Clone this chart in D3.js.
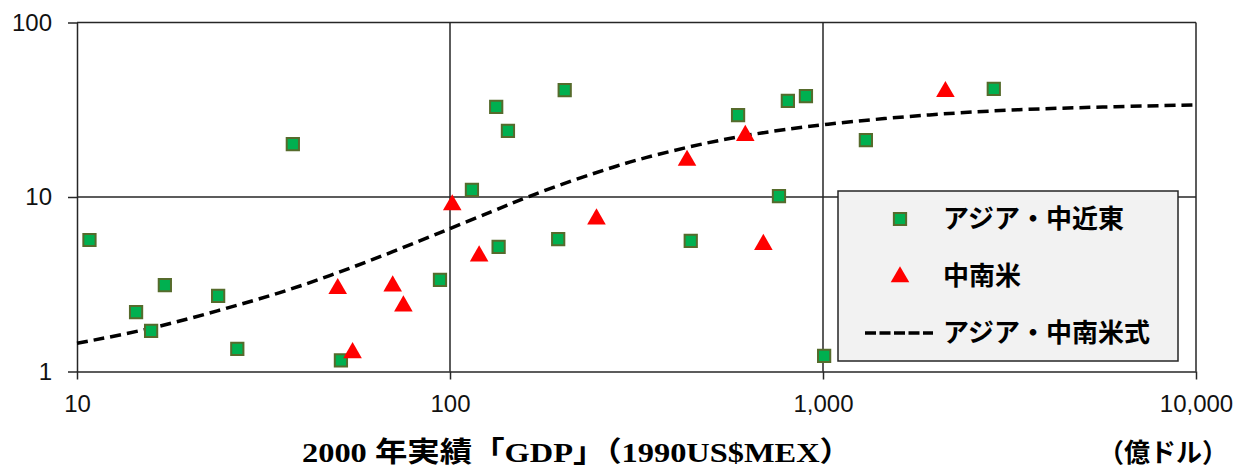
<!DOCTYPE html>
<html>
<head>
<meta charset="utf-8">
<script src="https://cdn.jsdelivr.net/npm/d3@7"></script>
<style>
    body { margin: 0; background: #fff; }
    .tick text { font-family: "Liberation Sans", Arial, sans-serif; font-size: 24px; fill: #111; }
    .domain, .tick line { stroke: #262626; stroke-width: 1.5px; }
    .grid-line { stroke: #262626; stroke-width: 1.5px; }
    .jp { font-family: "Liberation Serif", "Noto Sans CJK JP", serif; font-weight: bold; fill: #000; }
</style>
</head>
<body>
<div id="chart"></div>
<script>
//////////////////////////////////////////////////////////////
/////////////////////////// Data /////////////////////////////
//////////////////////////////////////////////////////////////

//アジア・中近東 - GDP (億ドル) and y-value
const asiaGdp = [10.8, 14.4, 15.8, 17.2, 23.9, 26.9, 37.9, 51, 94, 114.5, 135, 133, 143, 195, 203, 442, 592, 762, 805, 900, 1007, 1303, 2870]
const asiaVal = [5.67, 2.19, 1.71, 3.13, 2.71, 1.35, 20.1, 1.16, 3.35, 10.97, 5.17, 32.8, 23.9, 5.74, 41.0, 5.6, 29.5, 10.1, 35.5, 37.9, 1.23, 21.2, 41.6]

//中南米
const latamGdp = [50, 54.8, 70.2, 75, 101.4, 119.7, 247, 432, 619, 692, 2129]
const latamVal = [2.98, 1.28, 3.09, 2.37, 9.0, 4.59, 7.48, 16.2, 22.5, 5.34, 40.1]

//アジア・中南米式 (fitted curve)
const fitGdp = [10, 15.8, 23.9, 35, 49.7, 70.5, 100, 130.6, 160.6, 214, 286, 330, 431, 611, 1000, 1977, 3377, 5530, 10000]
const fitVal = [1.45, 1.75, 2.23, 2.81, 3.65, 4.86, 6.6, 8.3, 10.0, 12.5, 15.3, 16.7, 19.3, 22.6, 26.2, 29.9, 31.8, 32.8, 33.7]

const xTicks = [10, 100, 1000, 10000]
const yTicks = [1, 10, 100]
const legendLabels = ["アジア・中近東", "中南米", "アジア・中南米式"]
const xTitle = "2000 年実績「GDP」（1990US$MEX）"
const unitTitle = "（億ドル）"

//////////////////////////////////////////////////////////////
//////////////////////// Create SVG //////////////////////////
//////////////////////////////////////////////////////////////

const W = 1234, H = 472
const margin = { top: 22.5, right: 38, bottom: 100.5, left: 77 }

const svg = d3.select("#chart")
    .append("svg")
    .attr("width", W)
    .attr("height", H)

const xScale = d3.scaleLog()
    .domain([10, 10000])
    .range([margin.left, W - margin.right])

const yScale = d3.scaleLog()
    .domain([1, 100])
    .range([H - margin.bottom, margin.top])

//////////////////////////////////////////////////////////////
///////////////////////// Grid lines /////////////////////////
//////////////////////////////////////////////////////////////

const grid = svg.append("g").attr("class", "grid")

grid.selectAll(".grid-h")
    .data(yTicks.slice(1))
    .enter().append("line")
    .attr("class", "grid-line")
    .attr("x1", xScale(10)).attr("x2", xScale(10000))
    .attr("y1", d => yScale(d)).attr("y2", d => yScale(d))

grid.selectAll(".grid-v")
    .data(xTicks.slice(1))
    .enter().append("line")
    .attr("class", "grid-line")
    .attr("x1", d => xScale(d)).attr("x2", d => xScale(d))
    .attr("y1", yScale(1)).attr("y2", yScale(100))

//////////////////////////////////////////////////////////////
//////////////////////////// Axes ////////////////////////////
//////////////////////////////////////////////////////////////

svg.append("g")
    .attr("transform", "translate(0," + yScale(1) + ")")
    .call(d3.axisBottom(xScale)
        .tickValues(xTicks)
        .tickFormat(d3.format(","))
        .tickSizeInner(8)
        .tickSizeOuter(0)
        .tickPadding(15))

svg.append("g")
    .attr("transform", "translate(" + xScale(10) + ",0)")
    .call(d3.axisLeft(yScale)
        .tickValues(yTicks)
        .tickFormat(d3.format("d"))
        .tickSizeInner(9)
        .tickSizeOuter(0)
        .tickPadding(16))

//////////////////////////////////////////////////////////////
///////////////////////// Fit curve //////////////////////////
//////////////////////////////////////////////////////////////

const line = d3.line()
    .x(d => xScale(d[0]))
    .y(d => yScale(d[1]))
    .curve(d3.curveBasis)

svg.append("path")
    .datum(d3.zip(fitGdp, fitVal))
    .attr("d", line)
    .style("fill", "none")
    .style("stroke", "#000")
    .style("stroke-width", 3.5)
    .style("stroke-dasharray", "11,6")

//////////////////////////////////////////////////////////////
////////////////////////// Markers ///////////////////////////
//////////////////////////////////////////////////////////////

const squareSym = d3.symbol().type(d3.symbolSquare).size(150)
const triSym = d3.symbol().type(d3.symbolTriangle).size(150)

svg.append("g").selectAll(".asia")
    .data(d3.zip(asiaGdp, asiaVal))
    .enter().append("path")
    .attr("class", "asia")
    .attr("d", squareSym)
    .attr("transform", d => "translate(" + xScale(d[0]) + "," + yScale(d[1]) + ")")
    .style("fill", "#00b050")
    .style("stroke", "#566b2c")
    .style("stroke-width", 2)

svg.append("g").selectAll(".latam")
    .data(d3.zip(latamGdp, latamVal))
    .enter().append("path")
    .attr("class", "latam")
    .attr("d", triSym)
    .attr("transform", d => "translate(" + xScale(d[0]) + "," + yScale(d[1]) + ")")
    .style("fill", "#ff0000")

//////////////////////////////////////////////////////////////
/////////////////////////// Legend ///////////////////////////
//////////////////////////////////////////////////////////////

const legend = svg.append("g").attr("transform", "translate(838,191)")

legend.append("rect")
    .attr("width", 340)
    .attr("height", 170)
    .style("fill", "#f2f2f2")
    .style("stroke", "#262626")
    .style("stroke-width", 1.5)

legend.append("path")
    .attr("d", squareSym)
    .attr("transform", "translate(62,28)")
    .style("fill", "#00b050")
    .style("stroke", "#566b2c")
    .style("stroke-width", 2)

legend.append("path")
    .attr("d", triSym)
    .attr("transform", "translate(62,86)")
    .style("fill", "#ff0000")

legend.append("line")
    .attr("x1", 27).attr("x2", 95)
    .attr("y1", 142).attr("y2", 142)
    .style("stroke", "#000")
    .style("stroke-width", 3.5)
    .style("stroke-dasharray", "11,3.5")

legend.selectAll(".legend-text")
    .data(legendLabels)
    .enter().append("text")
    .attr("class", "jp")
    .attr("x", 105)
    .attr("y", (d, i) => 28 + i * 57)
    .attr("dy", "0.36em")
    .style("font-size", "26px")
    .text(d => d)

//////////////////////////////////////////////////////////////
///////////////////////// Axis titles ////////////////////////
//////////////////////////////////////////////////////////////

svg.append("text")
    .attr("class", "jp")
    .attr("x", 302)
    .attr("y", 462)
    .attr("textLength", 550)
    .attr("lengthAdjust", "spacingAndGlyphs")
    .style("font-size", "28px")
    .text(xTitle)

svg.append("text")
    .attr("class", "jp")
    .attr("x", 1228)
    .attr("y", 462)
    .attr("text-anchor", "end")
    .style("font-size", "26px")
    .text(unitTitle)
</script>
</body>
</html>
